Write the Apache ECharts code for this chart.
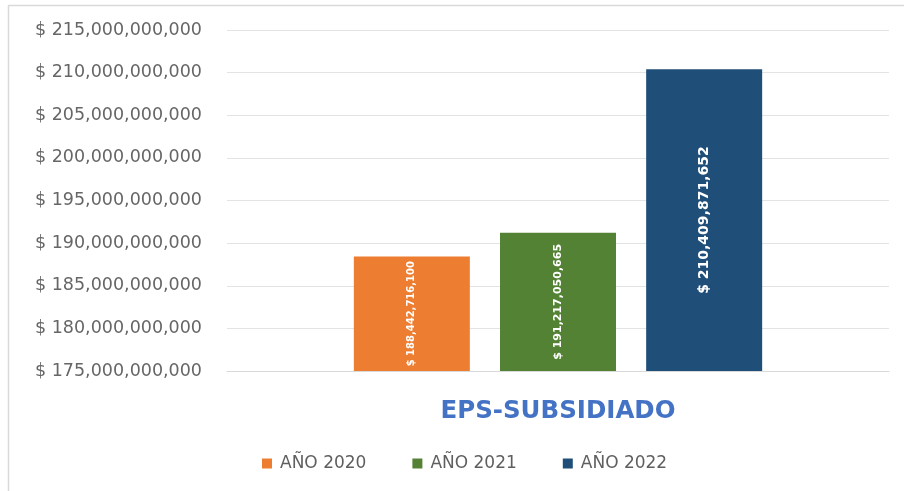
<!DOCTYPE html>
<html>
<head>
<meta charset="utf-8">
<script src="https://cdn.jsdelivr.net/npm/echarts@6/dist/echarts.min.js"></script>
<style>
  html, body { margin: 0; padding: 0; background: #ffffff; }
  #chart { width: 904px; height: 491px; }
</style>
</head>
<body>
<div id="chart"></div>
<script>
// Subsidised-regime EPS amounts per year
const categories = ['EPS-SUBSIDIADO'];
const seriesNames = ['AÑO 2020', 'AÑO 2021', 'AÑO 2022'];
const values2020 = [188442716100];
const values2021 = [191217050665];
const values2022 = [210409871652];
const seriesColors = ['#ED7D31', '#548235', '#1F4E79'];
// value labels are set at different sizes per year
const labelSizes = [10, 11, 14];

const fontFamily = '"DejaVu Sans", Verdana, sans-serif';
const money = v => '$ ' + Number(v).toLocaleString('en-US');

const seriesValues = [values2020, values2021, values2022];

const chart = echarts.init(document.getElementById('chart'), null, { renderer: 'canvas' });
chart.setOption({
  animation: false,
  backgroundColor: '#ffffff',
  graphic: [
    { type: 'line', shape: { x1: 8.5, y1: 5, x2: 8.5, y2: 491 }, style: { stroke: '#d9d9d9', lineWidth: 1.5 } },
    { type: 'line', shape: { x1: 8, y1: 5.5, x2: 904, y2: 5.5 }, style: { stroke: '#d9d9d9', lineWidth: 1.5 } }
  ],
  grid: { left: 227, right: 15, top: 30, bottom: 120, containLabel: false },
  legend: {
    bottom: 14,
    left: 257,
    data: seriesNames,
    icon: 'rect',
    itemWidth: 10,
    itemHeight: 10,
    itemGap: 46,
    textStyle: { color: '#5f5f5f', fontSize: 17, fontFamily: fontFamily, padding: [0, 0, 0, 3] }
  },
  xAxis: {
    type: 'category',
    data: categories,
    axisTick: { show: false },
    axisLine: { lineStyle: { color: '#d9d9d9' } },
    axisLabel: {
      margin: 28,
      color: '#4472C4',
      fontSize: 24.5,
      fontWeight: 'bold',
      fontFamily: fontFamily
    }
  },
  yAxis: {
    type: 'value',
    min: 175000000000,
    max: 215000000000,
    interval: 5000000000,
    axisLine: { show: false },
    axisTick: { show: false },
    splitLine: { lineStyle: { color: '#e3e3e3', width: 1 } },
    axisLabel: {
      margin: 25,
      color: '#666666',
      fontSize: 17.5,
      fontFamily: fontFamily,
      formatter: money
    }
  },
  series: seriesNames.map((name, i) => ({
    name: name,
    type: 'bar',
    data: seriesValues[i],
    barWidth: 116,
    barGap: '26%',
    itemStyle: { color: seriesColors[i] },
    label: {
      show: true,
      position: 'inside',
      rotate: 90,
      color: '#ffffff',
      fontSize: labelSizes[i],
      fontWeight: 'bold',
      fontFamily: fontFamily,
      formatter: p => money(p.value)
    }
  }))
});
</script>
</body>
</html>
